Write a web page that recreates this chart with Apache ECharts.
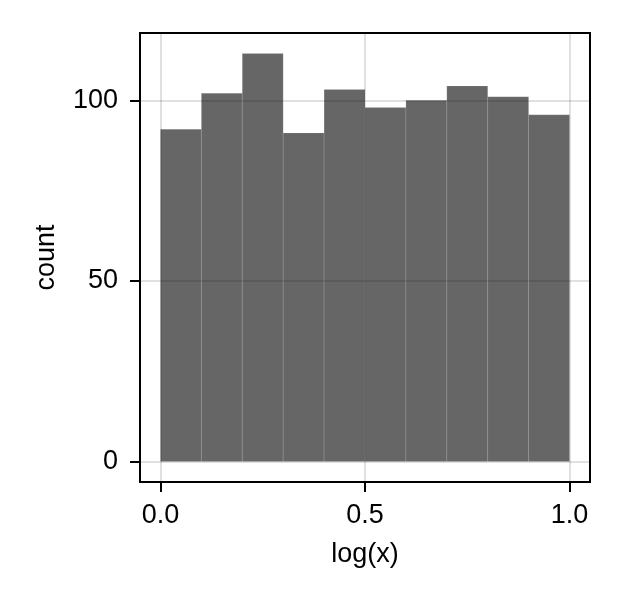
<!DOCTYPE html>
<html>
<head>
<meta charset="utf-8">
<script src="https://cdn.jsdelivr.net/npm/echarts@6/dist/echarts.min.js"></script>
<style>html,body{margin:0;padding:0;background:#fff}#c{width:622px;height:600px}</style>
</head>
<body>
<div id="c"></div>
<script>
// Histogram bins (edges) and counts
const binStarts = [0.0, 0.1, 0.2, 0.3, 0.4, 0.5, 0.6, 0.7, 0.8, 0.9];
const binEnds   = [0.1, 0.2, 0.3, 0.4, 0.5, 0.6, 0.7, 0.8, 0.9, 1.0];
const counts    = [92, 102, 113, 91, 103, 98, 100, 104, 101, 96];
const xTicks = [0, 0.5, 1.0];
const yTicks = [0, 50, 100];
const xLabel = 'log(x)';
const yLabel = 'count';

const data = binStarts.map((s, i) => [s, binEnds[i], counts[i]]);
const FONT = '"Liberation Sans", Arial, Helvetica, sans-serif';

const chart = echarts.init(document.getElementById('c'), null, {renderer: 'canvas'});
chart.setOption({
  animation: false,
  backgroundColor: '#ffffff',
  grid: {
    left: 140, right: 32, top: 33, bottom: 118,
    show: true, borderColor: '#000', borderWidth: 2, backgroundColor: 'transparent'
  },
  xAxis: {
    type: 'value', min: -0.05, max: 1.05,
    name: xLabel, nameLocation: 'middle', nameGap: 59,
    nameTextStyle: {fontFamily: FONT, fontSize: 27, color: '#000'},
    axisLine: {show: false, onZero: false},
    axisTick: {show: true, customValues: xTicks, length: 10, lineStyle: {color: '#000', width: 2}},
    axisLabel: {customValues: xTicks, fontFamily: FONT, fontSize: 27, color: '#000', margin: 20,
      formatter: v => Number(v).toFixed(1)},
    splitLine: {show: true, lineStyle: {color: 'rgba(0,0,0,0.12)', width: 2}}
  },
  yAxis: {
    type: 'value', min: -5.65, max: 118.65,
    name: yLabel, nameLocation: 'middle', nameGap: 80, nameRotate: 90,
    nameTextStyle: {fontFamily: FONT, fontSize: 27, color: '#000'},
    axisLine: {show: false, onZero: false},
    axisTick: {show: true, customValues: yTicks, length: 10, lineStyle: {color: '#000', width: 2}},
    axisLabel: {customValues: yTicks, fontFamily: FONT, fontSize: 27, color: '#000', margin: 22},
    splitLine: {show: true, lineStyle: {color: 'rgba(0,0,0,0.12)', width: 2}}
  },
  series: [{
    type: 'custom',
    data: data,
    encode: {x: [0, 1], y: 2},
    renderItem: function (params, api) {
      const p0 = api.coord([api.value(0), 0]);
      const p1 = api.coord([api.value(1), api.value(2)]);
      return {
        type: 'rect',
        shape: {x: p0[0], y: p1[1], width: p1[0] - p0[0], height: p0[1] - p1[1]},
        style: {fill: 'rgba(0,0,0,0.6)', stroke: 'rgba(255,255,255,0.12)', lineWidth: 1}
      };
    }
  }]
});
</script>
</body>
</html>
